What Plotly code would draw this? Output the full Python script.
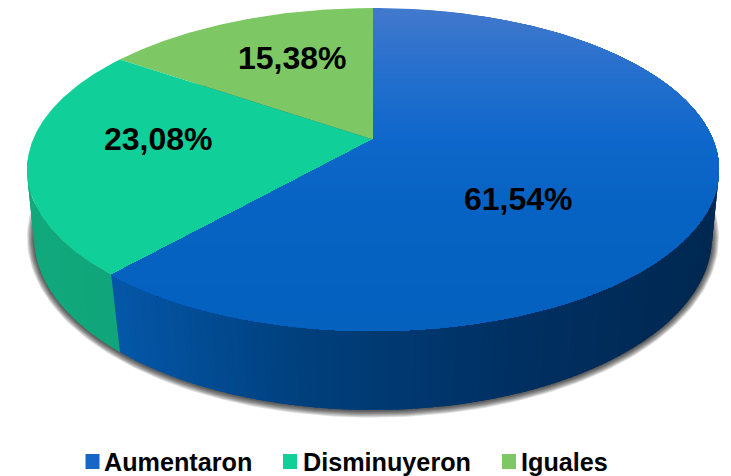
import numpy as np
import plotly.graph_objects as go

categories = ["Aumentaron", "Disminuyeron", "Iguales"]
values = [61.54, 23.08, 15.38]
top_colors = ["#0863c2", "#10cf99", "#7dc864"]

W, H = 731, 476
CX = 373
TOP = dict(cy=169.5, a=346, b=161.5, k=-0.185)
BOT = dict(cy=237.0, a=339, b=173.0, k=-0.165)


def rim(theta, e):
    """theta in radians, clockwise from 12 o'clock -> pixel position on the rim ellipse."""
    u, v = np.sin(theta), -np.cos(theta)
    k = e["k"]
    d = 1 + k * v
    up = u * np.sqrt(1 - k * k) / d
    vp = (v + k) / d
    return CX + e["a"] * up, e["cy"] + e["b"] * vp


def clip_below(xs, ys, y0):
    """Keep the part of a polygon with y >= y0."""
    out = []
    n = len(xs)
    for i in range(n):
        x1, y1, x2, y2 = xs[i], ys[i], xs[(i + 1) % n], ys[(i + 1) % n]
        if y1 >= y0:
            out.append((x1, y1))
        if (y1 >= y0) != (y2 >= y0):
            t = (y0 - y1) / (y2 - y1)
            out.append((x1 + t * (x2 - x1), y0))
    return [p[0] for p in out], [p[1] for p in out]


def lerp_stops(p, stops):
    xs = [s[0] for s in stops]
    return "rgb(%d,%d,%d)" % tuple(np.interp(p, xs, [s[1][c] for s in stops]) for c in range(3))


fig = go.Figure()


def poly(xs, ys, color):
    fig.add_trace(go.Scatter(x=list(xs), y=list(ys), mode="lines", fill="toself", fillcolor=color,
                             line=dict(width=0, color=color), hoverinfo="skip", showlegend=False))


# soft shadow below the wall
ang = np.linspace(0, 2 * np.pi, 240)
for grow in range(7, 0, -1):
    e = dict(cy=BOT["cy"] + 0.5, a=BOT["a"] + grow, b=BOT["b"] + grow)
    poly(CX + e["a"] * np.cos(ang), e["cy"] + e["b"] * np.sin(ang), "rgba(0,0,0,0.13)")

# sector limits, from the values
fr = np.cumsum([0] + values) / sum(values) * 2 * np.pi

# outer wall: overlapping strips, painted right to left
wall_blue = [(110, (5, 88, 170)), (300, (0, 64, 125)), (520, (0, 48, 98)), (720, (1, 40, 80))]
wall_teal = [(30, (16, 170, 125)), (120, (16, 165, 122))]
wall_from = np.radians(97)
wall_to = np.radians(263)
th = np.r_[np.linspace(wall_from, fr[1], 130), np.linspace(fr[1], wall_to, 40)[1:]]
for t0, t1 in zip(th[:-1], th[1:]):
    t2 = min(t1 + 0.012, wall_to)
    tm = (t0 + t1) / 2
    x0, y0 = rim(np.array([t0, t2]), TOP)
    x1, y1 = rim(np.array([t2, t0]), BOT)
    xm = (x0.mean() + x1.mean()) / 2
    col = lerp_stops(xm, wall_blue if tm < fr[1] else wall_teal)
    poly(np.r_[x0, x1], np.r_[y0, y1], col)

# top face
cx0, cy0 = CX, TOP["cy"] + TOP["b"] * TOP["k"]
sectors = []
for i in range(3):
    t = np.linspace(fr[i], fr[i + 1], 200)
    x, y = rim(t, TOP)
    sectors.append((np.r_[cx0, x], np.r_[cy0, y]))

poly(*sectors[2], top_colors[2])
poly(*sectors[1], top_colors[1])

# the blue slice carries a vertical gradient: overlapping bands painted top to bottom
blue_stops = [(8, (66, 122, 204)), (60, (42, 113, 206)), (140, (14, 104, 203)), (200, (8, 100, 196)), (331, (5, 97, 190))]
bx, by = sectors[0]
for yb in np.arange(7, 331, 3):
    xs, ys = clip_below(list(bx), list(by), float(yb))
    if len(xs) >= 3:
        poly(xs, ys, lerp_stops(yb + 1.5, blue_stops))

# labels on the slices
pct_labels = [f"{v:.2f}%".replace(".", ",") for v in values]
label_x = [518.5, 158.5, 292.5]
label_y = [199, 139, 58]
annotations = [dict(x=x, y=y, text=f"<b>{s}</b>", showarrow=False, xanchor="center", yanchor="middle",
                    font=dict(family="Liberation Sans", size=32, color="#000000"))
               for s, x, y in zip(pct_labels, label_x, label_y)]

# legend row
swatch_x = [85.5, 283, 502]
text_x = [102, 301, 518.5]
legend_y = 461.5
swatch_colors = ["#1566c6", "#10cf99", "#7dc864"]
shapes = []
for name, sx, tx, c in zip(categories, swatch_x, text_x, swatch_colors):
    shapes.append(dict(type="rect", x0=sx, x1=sx + 14, y0=legend_y - 7.5, y1=legend_y + 7.5,
                       fillcolor=c, line=dict(width=0)))
    annotations.append(dict(x=tx, y=legend_y, text=f"<b>{name}</b>", showarrow=False, xanchor="left",
                            yanchor="middle",
                            font=dict(family="Liberation Sans", size=25.2, color="#000000")))

fig.update_layout(
    width=W, height=H, autosize=False, margin=dict(l=0, r=0, t=0, b=0),
    paper_bgcolor="white", plot_bgcolor="white", showlegend=False,
    xaxis=dict(range=[0, W], visible=False, fixedrange=True),
    yaxis=dict(range=[H, 0], visible=False, fixedrange=True),
    annotations=annotations, shapes=shapes,
)
fig.write_html("out.html", post_script="document.body.style.margin='0';", config={"displayModeBar": False})
